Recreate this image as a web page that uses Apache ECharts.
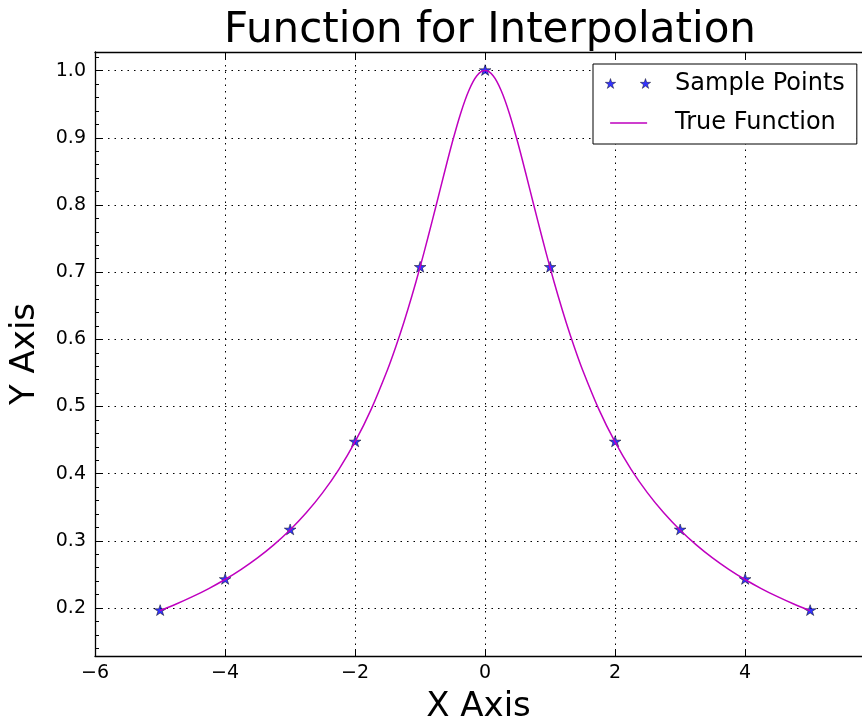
<!DOCTYPE html>
<html>
<head>
<meta charset="utf-8">
<script src="https://cdn.jsdelivr.net/npm/echarts@6/dist/echarts.min.js"></script>
<style>
  html, body { margin: 0; padding: 0; background: #fff; }
  #main { width: 862px; height: 721px; }
</style>
</head>
<body>
<div id="main"></div>
<script>
// sample points (stars)
var sampleX = [-5, -4, -3, -2, -1, 0, 1, 2, 3, 4, 5];
var sampleY = [0.1961, 0.2425, 0.3162, 0.4472, 0.7071, 1.0, 0.7071, 0.4472, 0.3162, 0.2425, 0.1961];

// true function curve
var curveX = [-5, -4.75, -4.5, -4.25, -4, -3.75, -3.5, -3.25, -3, -2.75, -2.5, -2.25, -2, -1.75, -1.5, -1.375, -1.25, -1.125, -1,
  -0.875, -0.75, -0.625, -0.5, -0.375, -0.25, -0.125, 0, 0.125, 0.25, 0.375, 0.5, 0.625, 0.75, 0.875,
  1, 1.125, 1.25, 1.375, 1.5, 1.75, 2, 2.25, 2.5, 2.75, 3, 3.25, 3.5, 3.75, 4, 4.25, 4.5, 4.75, 5];
var curveY = [0.1961, 0.2060, 0.2169, 0.2290, 0.2425, 0.2577, 0.2747, 0.2941, 0.3162, 0.3417, 0.3714, 0.4061, 0.4472, 0.4961, 0.5547, 0.5882, 0.6247, 0.6644, 0.7071,
  0.7526, 0.8000, 0.8480, 0.8944, 0.9363, 0.9701, 0.9923, 1.0, 0.9923, 0.9701, 0.9363, 0.8944, 0.8480, 0.8000, 0.7526,
  0.7071, 0.6644, 0.6247, 0.5882, 0.5547, 0.4961, 0.4472, 0.4061, 0.3714, 0.3417, 0.3162, 0.2941, 0.2747, 0.2577, 0.2425, 0.2290, 0.2169, 0.2060, 0.1961];

var xTicks = [-6, -4, -2, 0, 2, 4];
var yTicks = [0.2, 0.3, 0.4, 0.5, 0.6, 0.7, 0.8, 0.9, 1.0];
var yMinorTicks = [];
for (var i = 7; i <= 51; i++) yMinorTicks.push(+(i * 0.02).toFixed(2));

var FONT = 'DejaVu Sans';

// 5-point star outline as an svg path
function starPath(cx, cy, r) {
  var pts = [];
  for (var k = 0; k < 10; k++) {
    var a = -Math.PI / 2 + k * Math.PI / 5;
    var rr = k % 2 === 0 ? r : r * 0.38;
    pts.push((cx + rr * Math.cos(a)).toFixed(2) + ' ' + (cy + rr * Math.sin(a)).toFixed(2));
  }
  return 'M' + pts.join(' L') + ' Z ';
}
var starSymbol = 'path://' + starPath(55, 55, 55) + 'M0 110 L0.01 110 Z';
var starsIcon = 'path://' + starPath(55, 55, 55) + starPath(405, 55, 55) + 'M650 0 L650.01 0 Z M650 110 L650.01 110 Z';
var lineIcon = 'path://M0 0 L0.01 0 Z M50 48 L420 48 L420 62 L50 62 Z M650 110 L650.01 110 Z';

var chart = echarts.init(document.getElementById('main'));

var minus = function (v) { return String(v).replace('-', '\u2212'); };
var xMin = -6, xMax = 5.8, yMin = 0.1286, yMax = 1.0277;

chart.setOption({
  animation: false,
  backgroundColor: '#fff',
  title: {
    text: 'Function for Interpolation',
    left: 485, top: 5, textAlign: 'center',
    textStyle: { fontFamily: FONT, fontSize: 42, fontWeight: 'normal', color: '#000' }
  },
  legend: {
    orient: 'vertical',
    left: 593, top: 64,
    padding: [8, 12, 9, 12],
    itemGap: 15,
    itemWidth: 65, itemHeight: 11,
    backgroundColor: '#fff',
    borderColor: '#000', borderWidth: 1, borderRadius: 0,
    textStyle: { fontFamily: FONT, fontSize: 24, color: '#000' },
    data: [
      { name: 'Sample Points', icon: starsIcon, itemStyle: { color: '#0000ff', borderColor: '#000', borderWidth: 0.5 } },
      { name: 'True Function', icon: lineIcon, itemStyle: { color: '#bf00bf', borderWidth: 0 } }
    ]
  },
  grid: { left: 95, right: 0, top: 52, bottom: 65, outerBoundsMode: 'none', containLabel: false },
  xAxis: [{
    type: 'value', min: xMin, max: xMax,
    name: 'X Axis', nameLocation: 'middle', nameGap: 34,
    nameTextStyle: { fontFamily: FONT, fontSize: 34, color: '#000' },
    axisLine: { show: true, onZero: false, lineStyle: { color: '#000', width: 1.3 } },
    axisTick: { show: true, inside: true, length: 7, customValues: xTicks, lineStyle: { color: '#000' } },
    axisLabel: { customValues: xTicks, formatter: minus, margin: 8, fontFamily: FONT, fontSize: 19, color: '#000' },
    splitLine: { show: true, lineStyle: { color: '#000', type: [1.5, 5], width: 1 } }
  }, {
    type: 'value', position: 'top', min: xMin, max: xMax,
    axisLine: { show: true, onZero: false, lineStyle: { color: '#000', width: 1.3 } },
    axisTick: { show: true, inside: true, length: 7, customValues: xTicks, lineStyle: { color: '#000' } },
    axisLabel: { show: false },
    splitLine: { show: false }
  }],
  yAxis: [{
    type: 'value', min: yMin, max: yMax,
    name: 'Y Axis', nameLocation: 'middle', nameGap: 53,
    nameTextStyle: { fontFamily: FONT, fontSize: 34, color: '#000' },
    axisLine: { show: true, onZero: false, lineStyle: { color: '#000', width: 1.3 } },
    axisTick: { show: true, inside: true, length: 7, customValues: yTicks, lineStyle: { color: '#000' } },
    axisLabel: { customValues: yTicks, formatter: function (v) { return v.toFixed(1); }, margin: 9, fontFamily: FONT, fontSize: 19, color: '#000' },
    splitLine: { show: true, lineStyle: { color: '#000', type: [1.5, 5], width: 1 } }
  }, {
    type: 'value', position: 'left', min: yMin, max: yMax,
    axisLine: { show: false, onZero: false },
    axisTick: { show: true, inside: true, length: 4, customValues: yMinorTicks, lineStyle: { color: '#000' } },
    axisLabel: { show: false },
    splitLine: { show: false }
  }],
  series: [{
    name: 'Sample Points',
    type: 'scatter',
    symbol: starSymbol,
    symbolSize: 12,
    z: 3,
    itemStyle: { color: '#0000ff', borderColor: '#000', borderWidth: 0.6 },
    data: sampleX.map(function (x, i) { return [x, sampleY[i]]; })
  }, {
    name: 'True Function',
    type: 'line',
    showSymbol: false,
    smooth: 0.3,
    z: 4,
    color: '#bf00bf',
    lineStyle: { color: '#bf00bf', width: 1.5 },
    itemStyle: { color: '#bf00bf' },
    data: curveX.map(function (x, i) { return [x, curveY[i]]; })
  }]
});
</script>
</body>
</html>
